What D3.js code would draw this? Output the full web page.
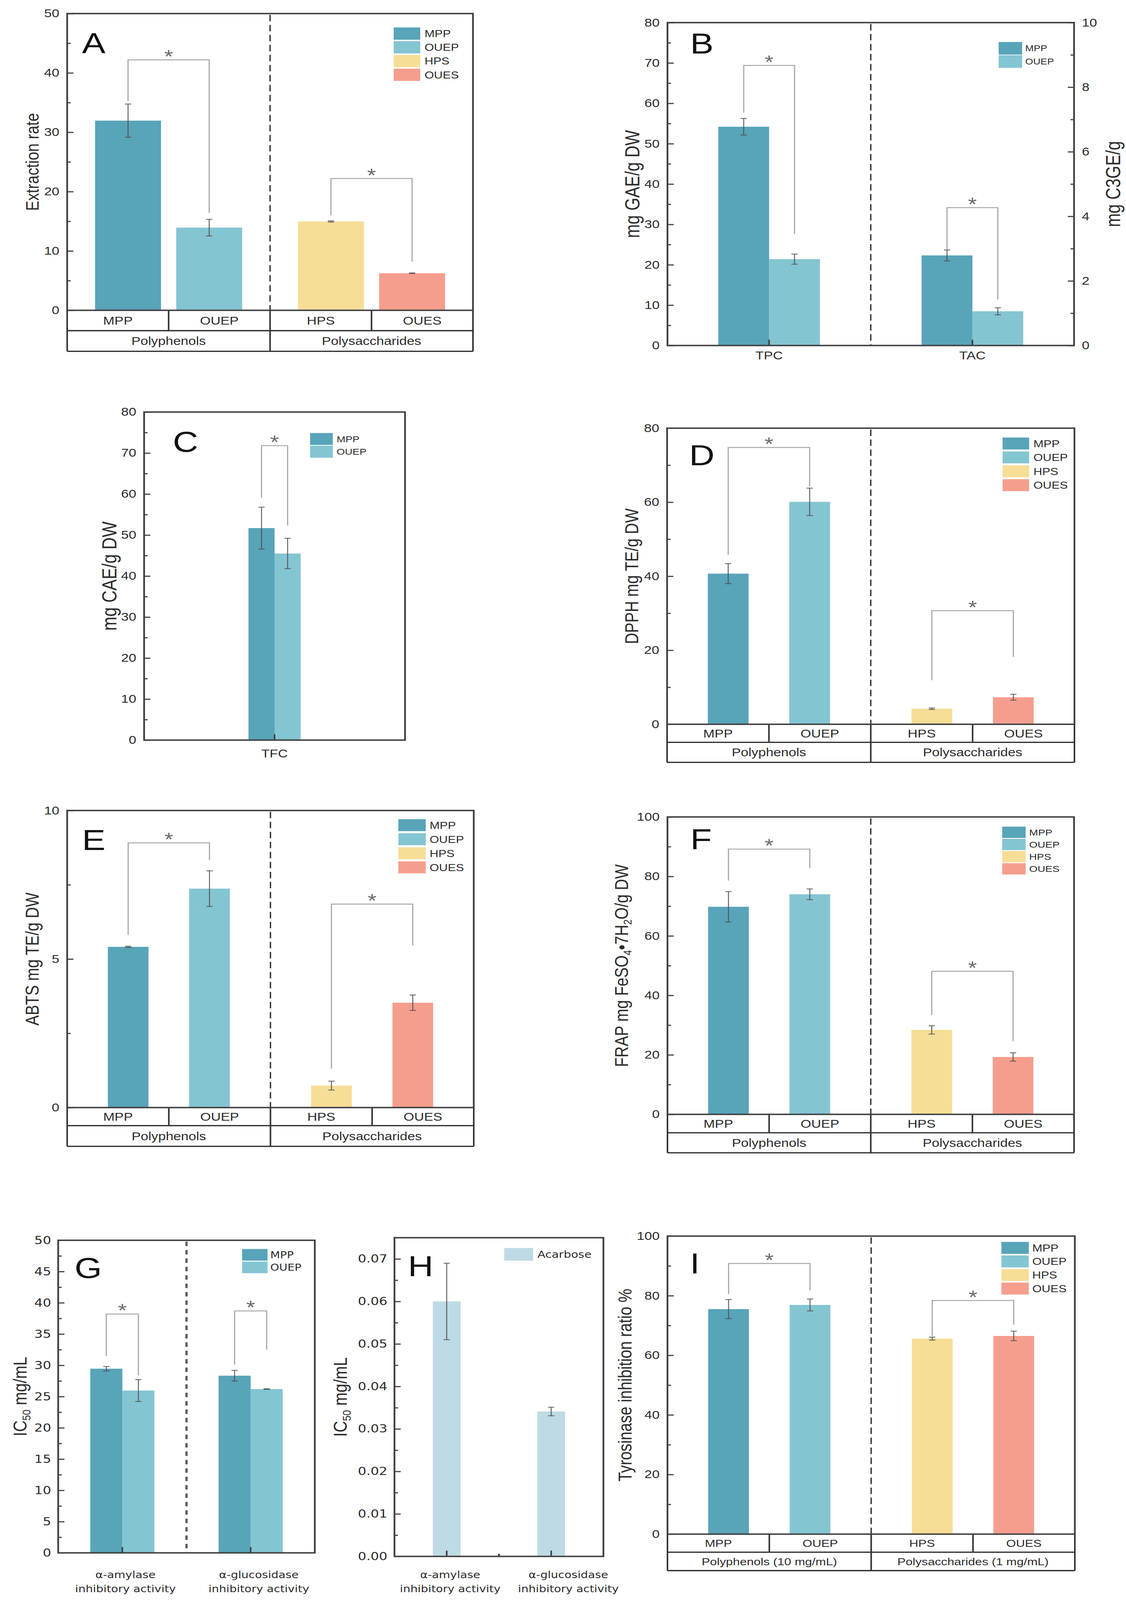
<!DOCTYPE html>
<html>
<head>
<meta charset="utf-8">
<script src="https://cdn.jsdelivr.net/npm/d3@7"></script>
<style>
  html, body { margin: 0; padding: 0; background: #fff; overflow: hidden; }
  #fig svg { display: block; width: 100vw; height: 100vh; }
</style>
</head>
<body>
<div id="fig"></div>
<script>
"use strict";
// ---- series / categories ----
const series4 = ["MPP", "OUEP", "HPS", "OUES"];
const series2 = ["MPP", "OUEP"];
const ppGroups = ["Polyphenols", "Polysaccharides"];
const ppGroupsConc = ["Polyphenols (10 mg/mL)", "Polysaccharides (1 mg/mL)"];
const bGroups = ["TPC", "TAC"];
const cGroups = ["TFC"];
const enzymes = ["α-amylase", "α-glucosidase"];
const enzymeLines = [["α-amylase", "inhibitory activity"], ["α-glucosidase", "inhibitory activity"]];

// ---- values (mean, error) ----
// A extraction rate
const aValues = [31.96, 13.93, 14.97, 6.25];
const aErrors = [2.8, 1.4, 0.1, 0.05];
const aSig = [[0, 1, 42.2, 35.2, 16.4], [2, 3, 22.2, 16.0, 8.2]];
// B TPC (left axis) and TAC (right axis)
const tpcValues = [54.2, 21.4];
const tpcErrors = [2.05, 1.25];
const tacValues = [2.79, 1.06];
const tacErrors = [0.17, 0.11];
const bSig = [[0, 1, 69.4, 57.7, 27.6], [2, 3, 4.27, 2.98, 1.43]];
// C TFC
const cValues = [51.7, 45.5];
const cErrors = [5.1, 3.7];
const cSig = [[0, 1, 71.8, 59.1, 52.3]];
// D DPPH
const dValues = [40.7, 60.1, 4.2, 7.3];
const dErrors = [2.7, 3.7, 0.2, 0.8];
const dSig = [[0, 1, 74.8, 45.8, 64.3], [2, 3, 30.7, 11.9, 18.2]];
// E ABTS
const eValues = [5.41, 7.37, 0.74, 3.53];
const eErrors = [0.02, 0.6, 0.15, 0.26];
const eSig = [[0, 1, 8.91, 5.81, 8.33], [2, 3, 6.85, 1.31, 5.46]];
// F FRAP
const fValues = [69.8, 74.0, 28.4, 19.3];
const fErrors = [5.1, 1.8, 1.4, 1.4];
const fSig = [[0, 1, 89.2, 78.6, 82.8], [2, 3, 48.1, 33.4, 24.6]];
// G IC50 of extracts
const gMPP = [29.46, 28.34];
const gMPPErr = [0.35, 0.85];
const gOUEP = [25.96, 26.2];
const gOUEPErr = [1.75, 0.05];
const gSig = [[0, 1, 38.2, 31.5, 28.4], [2, 3, 38.7, 30.1, 32.5]];
// H acarbose
const hValues = [0.060, 0.0341];
const hErrors = [0.009, 0.001];
// I tyrosinase
const iValues = [75.5, 76.9, 65.6, 66.5];
const iErrors = [3.2, 2.0, 0.5, 1.6];
const iSig = [[0, 1, 90.8, 80.6, 81.8], [2, 3, 78.4, 66.5, 70.3]];

// ---- tick values ----
const aTicks = [0, 10, 20, 30, 40, 50];
const bTicks = [0, 10, 20, 30, 40, 50, 60, 70, 80];
const bTicksRight = [0, 2, 4, 6, 8, 10];
const cTicks = [0, 10, 20, 30, 40, 50, 60, 70, 80];
const dTicks = [0, 20, 40, 60, 80];
const eTicks = [0, 5, 10];
const fTicks = [0, 20, 40, 60, 80, 100];
const gTicks = [0, 5, 10, 15, 20, 25, 30, 35, 40, 45, 50];
const hTicks = [0, 0.01, 0.02, 0.03, 0.04, 0.05, 0.06, 0.07];
const iTicks = [0, 20, 40, 60, 80, 100];

const seriesColor = {
  MPP: "#58a4b9", OUEP: "#84c5d2", HPS: "#f6de96", OUES: "#f69e8e", Acarbose: "#bedae4"
};
const sans = "'Liberation Sans', Arial, Helvetica, sans-serif";
const wide = "'DejaVu Sans', Verdana, sans-serif";
const ink = "#2b2b2b";
const frameColor = "#404040";
const W = 2883, H = 4955;

const fourBars = (groups, values, errors) => values.map((v, i) => ({
  group: groups[i >> 1], slot: i % 2, name: series4[i], value: v, err: errors[i]
}));
const sigRows = rows => rows.map(([a, b, top, l, r]) => ({ a, b, top, l, r }));

// the figure is laid out in reference pixels and stretched to the window
const svg = d3.select("#fig").append("svg")
  .attr("viewBox", `0 0 ${W} ${H}`)
  .attr("preserveAspectRatio", "none")
  .style("font-family", sans);
svg.append("rect").attr("width", W).attr("height", H).attr("fill", "#fff");

function yTitle(g, parts, x, cy, fs) {
  const t = g.append("text")
    .attr("transform", `translate(${x + fs * 0.33},${cy}) rotate(-90)`)
    .attr("text-anchor", "middle")
    .attr("font-size", fs).attr("fill", ink);
  let shifted = false;
  parts.forEach(([s, sub]) => {
    const span = t.append("tspan").text(s).attr("font-size", sub ? fs * 0.62 : fs);
    if (sub && !shifted) { span.attr("dy", fs * 0.2); shifted = true; }
    else if (!sub && shifted) { span.attr("dy", -fs * 0.2); shifted = false; }
  });
}

function drawPanel(p) {
  const g = svg.append("g");
  const y = d3.scaleLinear().domain([0, p.max]).range([p.bottom, p.top]);
  const y2 = p.max2 ? d3.scaleLinear().domain([0, p.max2]).range([p.bottom, p.top]) : null;
  const gx = d3.scaleBand().domain(p.groups).range([p.left, p.right]);
  const gw = gx.bandwidth();
  const inner = d3.scalePoint().domain(d3.range(p.slots)).range([0, gw]).padding(p.pad);
  const bw = gw * p.barFrac;
  const cx = d => gx(d.group) + inner(d.slot);
  const ys = d => (d.right ? y2 : y);
  const tickFont = p.tickFont || sans;

  // bars
  g.append("g").selectAll("rect").data(p.bars).join("rect")
    .attr("x", d => cx(d) - bw / 2)
    .attr("width", bw)
    .attr("y", d => ys(d)(d.value))
    .attr("height", d => p.bottom - ys(d)(d.value))
    .attr("fill", d => seriesColor[d.name]);

  // error bars
  const eb = g.append("g").attr("stroke", "#4d4d4d").attr("stroke-width", 2.6).attr("stroke-opacity", 0.85)
    .selectAll("g").data(p.bars).join("g");
  eb.append("line")
    .attr("x1", cx).attr("x2", cx)
    .attr("y1", d => ys(d)(d.value + d.err)).attr("y2", d => ys(d)(d.value - d.err));
  [1, -1].forEach(s => eb.append("line")
    .attr("x1", d => cx(d) - 8).attr("x2", d => cx(d) + 8)
    .attr("y1", d => ys(d)(d.value + s * d.err)).attr("y2", d => ys(d)(d.value + s * d.err)));

  // significance brackets
  const starFs = 58;
  const sg = g.append("g").selectAll("g").data(p.sig || []).join("g");
  sg.append("path")
    .attr("d", d => {
      const s = ys(p.bars[d.a]);
      const xa = cx(p.bars[d.a]), xb = cx(p.bars[d.b]);
      return `M${xa},${s(d.l)}V${s(d.top)}H${xb}V${s(d.r)}`;
    })
    .attr("fill", "none").attr("stroke", "#a8a8a8").attr("stroke-width", 3);
  sg.append("text").text("*")
    .attr("x", d => (cx(p.bars[d.a]) + cx(p.bars[d.b])) / 2)
    .attr("y", d => ys(p.bars[d.a])(d.top) - 24 + 0.57 * starFs)
    .attr("text-anchor", "middle").attr("font-size", starFs).attr("fill", "#6a6a6a");

  // group divider
  if (p.divider) {
    const dx = gx(p.groups[1]);
    g.append("line")
      .attr("x1", dx).attr("x2", dx).attr("y1", p.top + 4).attr("y2", p.bottom)
      .attr("stroke", p.divider.color).attr("stroke-width", p.divider.width)
      .attr("stroke-dasharray", p.divider.dash);
  }

  // y axis (inward ticks)
  const fmt = p.fmt || d3.format("d");
  const ax = g.append("g").attr("transform", `translate(${p.left},0)`)
    .call(d3.axisLeft(y).tickValues(p.ticks).tickSize(-16).tickPadding(p.tickPad || 20).tickFormat(fmt));
  const minor = d3.pairs(p.ticks).map(([a, b]) => (a + b) / 2);
  const axm = g.append("g").attr("transform", `translate(${p.left},0)`)
    .call(d3.axisLeft(y).tickValues(minor).tickSize(-9).tickFormat(""));
  [ax, axm].forEach(a => {
    a.select(".domain").remove();
    a.attr("color", frameColor).selectAll("line").attr("stroke-width", 3.5);
  });
  axm.selectAll("text").remove();
  ax.selectAll("text").attr("font-size", p.tickFs || 35).attr("font-family", tickFont).attr("fill", ink);

  if (y2) {
    const ar = g.append("g").attr("transform", `translate(${p.right},0)`)
      .call(d3.axisRight(y2).tickValues(p.ticks2).tickSize(-16).tickPadding(20).tickFormat(fmt));
    const minor2 = d3.pairs(p.ticks2).map(([a, b]) => (a + b) / 2);
    const arm = g.append("g").attr("transform", `translate(${p.right},0)`)
      .call(d3.axisRight(y2).tickValues(minor2).tickSize(-9).tickFormat(""));
    [ar, arm].forEach(a => {
      a.select(".domain").remove();
      a.attr("color", frameColor).selectAll("line").attr("stroke-width", 3.5);
    });
    arm.selectAll("text").remove();
    ar.selectAll("text").attr("font-size", 35).attr("font-family", sans).attr("fill", ink);
  }

  // category ticks + labels below the axis
  if (p.catLines) {
    const axb = g.append("g").attr("transform", `translate(0,${p.bottom})`)
      .call(d3.axisBottom(gx).tickSize(-18).tickFormat(""));
    axb.select(".domain").remove();
    axb.selectAll("text").remove();
    axb.attr("color", frameColor).selectAll("line").attr("stroke-width", 4);
    if (p.midTick) {
      g.append("line").attr("x1", gx(p.groups[1])).attr("x2", gx(p.groups[1]))
        .attr("y1", p.bottom).attr("y2", p.bottom - 8)
        .attr("stroke", frameColor).attr("stroke-width", 5);
    }
    p.groups.forEach((grp, j) => {
      p.catLines[j].forEach((line, k) => {
        g.append("text").text(line)
          .attr("x", gx(grp) + gw / 2 + (p.catShift ? p.catShift[j] : 0))
          .attr("y", p.bottom + p.catY[k]).attr("dy", "0.35em")
          .attr("text-anchor", "middle")
          .attr("font-size", p.catFs).attr("font-family", p.catFont || sans).attr("fill", ink);
      });
    });
  }

  // table rows under the axis
  if (p.rows) {
    const r1 = p.bottom + p.rows[0], r2 = r1 + p.rows[1];
    const tl = g.append("g").attr("stroke", "#333").attr("stroke-width", 4);
    [r1, r2].forEach(ry => tl.append("line").attr("x1", p.left).attr("x2", p.right).attr("y1", ry).attr("y2", ry));
    [p.left, gx(p.groups[1]), p.right].forEach(vx =>
      tl.append("line").attr("x1", vx).attr("x2", vx).attr("y1", p.bottom).attr("y2", r2));
    p.groups.forEach(grp =>
      tl.append("line").attr("x1", gx(grp) + gw / 2).attr("x2", gx(grp) + gw / 2).attr("y1", p.bottom).attr("y2", r1));
    g.append("g").selectAll("text").data(p.bars).join("text")
      .text(d => d.name)
      .attr("x", d => gx(d.group) + gw * (d.slot * 2 + 1) / 4)
      .attr("y", (p.bottom + r1) / 2).attr("dy", "0.36em")
      .attr("text-anchor", "middle").attr("font-size", p.rowFs[0]).attr("fill", ink);
    g.append("g").selectAll("text").data(p.groups).join("text")
      .text(d => d)
      .attr("x", d => gx(d) + gw / 2)
      .attr("y", (r1 + r2) / 2).attr("dy", "0.36em")
      .attr("text-anchor", "middle").attr("font-size", p.rowFs[1]).attr("fill", ink);
  }

  // frame
  g.append("rect")
    .attr("x", p.left).attr("y", p.top)
    .attr("width", p.right - p.left).attr("height", p.bottom - p.top)
    .attr("fill", "none").attr("stroke", frameColor).attr("stroke-width", 4.5);

  // legend
  const L = p.legend;
  const lg = g.append("g").selectAll("g").data(L.items).join("g")
    .attr("transform", (d, i) => `translate(${L.x},${L.y + i * L.step})`);
  lg.append("rect").attr("width", L.w).attr("height", L.h).attr("fill", d => seriesColor[d]);
  lg.append("text").text(d => d)
    .attr("x", L.w + L.gap).attr("y", L.h / 2).attr("dy", "0.36em")
    .attr("font-size", L.fs).attr("font-family", L.font || sans).attr("fill", ink);

  // panel letter
  g.append("text").text(p.letter[0])
    .attr("x", p.letter[1]).attr("y", p.letter[2] + 32)
    .attr("text-anchor", "middle").attr("font-size", 90).attr("fill", "#111");

  // axis titles
  yTitle(g, p.title[0], p.title[1], (p.top + p.bottom) / 2, p.title[2]);
  if (p.title2) yTitle(g, p.title2[0], p.title2[1], (p.top + p.bottom) / 2, p.title2[2]);
}

const thinDash = { color: "#333", width: 3.5, dash: "20,11" };

// A
drawPanel({
  left: 172, right: 1211, top: 42, bottom: 961, max: 50, ticks: aTicks,
  groups: ppGroups, slots: 2, pad: 0.75, barFrac: 0.325,
  bars: fourBars(ppGroups, aValues, aErrors), sig: sigRows(aSig),
  divider: thinDash, rows: [63, 64], rowFs: [35, 35],
  legend: { items: series4, x: 1008, y: 85, w: 68, h: 38, step: 42.5, gap: 11, fs: 31 },
  letter: ["A", 240, 133], title: [[["Extraction rate"]], 83, 47]
});
// B
drawPanel({
  left: 1709, right: 2750, top: 70, bottom: 1070, max: 80, ticks: bTicks, max2: 10, ticks2: bTicksRight,
  groups: bGroups, slots: 2, pad: 1.5, barFrac: 0.25,
  bars: series2.map((s, i) => ({ group: "TPC", slot: i, name: s, value: tpcValues[i], err: tpcErrors[i] }))
    .concat(series2.map((s, i) => ({ group: "TAC", slot: i, name: s, value: tacValues[i], err: tacErrors[i], right: true }))),
  sig: sigRows(bSig), divider: thinDash,
  catLines: bGroups.map(d => [d]), catY: [31], catFs: 35,
  legend: { items: series2, x: 2557, y: 130, w: 60, h: 39, step: 41, gap: 8, fs: 26 },
  letter: ["B", 1797, 134],
  title: [[["mg GAE/g DW"]], 1620, 51], title2: [[["mg C3GE/g"]], 2851, 51]
});
// C
drawPanel({
  left: 369, right: 1037, top: 1276, bottom: 2292, max: 80, ticks: cTicks,
  groups: cGroups, slots: 2, pad: 4.5, barFrac: 0.1,
  bars: series2.map((s, i) => ({ group: "TFC", slot: i, name: s, value: cValues[i], err: cErrors[i] })),
  sig: sigRows(cSig),
  catLines: [["TFC"]], catY: [41], catFs: 35,
  legend: { items: series2, x: 794, y: 1341, w: 58, h: 37, step: 39.5, gap: 10, fs: 27 },
  letter: ["C", 475, 1368], title: [[["mg CAE/g DW"]], 281, 52]
});
// D
drawPanel({
  left: 1708, right: 2751, top: 1326, bottom: 2243, max: 80, ticks: dTicks,
  groups: ppGroups, slots: 2, pad: 0.75, barFrac: 0.2,
  bars: fourBars(ppGroups, dValues, dErrors), sig: sigRows(dSig),
  divider: thinDash, rows: [56, 62], rowFs: [35, 35],
  legend: { items: series4, x: 2567, y: 1355, w: 68, h: 37, step: 43, gap: 11, fs: 31 },
  letter: ["D", 1797, 1409], title: [[["DPPH mg TE/g DW"]], 1618, 48]
});
// E
drawPanel({
  left: 172, right: 1213, top: 2510, bottom: 3430, max: 10, ticks: eTicks,
  groups: ppGroups, slots: 2, pad: 0.75, barFrac: 0.2,
  bars: fourBars(ppGroups, eValues, eErrors), sig: sigRows(eSig),
  divider: thinDash, rows: [56, 64], rowFs: [35, 35],
  legend: { items: series4, x: 1020, y: 2537, w: 70, h: 37, step: 43.5, gap: 10, fs: 31 },
  letter: ["E", 240, 2600], title: [[["ABTS mg TE/g DW"]], 83, 48]
});
// F
drawPanel({
  left: 1709, right: 2750, top: 2530, bottom: 3451, max: 100, ticks: fTicks,
  groups: ppGroups, slots: 2, pad: 0.75, barFrac: 0.2,
  bars: fourBars(ppGroups, fValues, fErrors), sig: sigRows(fSig),
  divider: thinDash, rows: [57, 62], rowFs: [35, 35],
  legend: { items: series4, x: 2566, y: 2560, w: 60, h: 35, step: 37.7, gap: 9, fs: 27.5 },
  letter: ["F", 1795, 2598],
  title: [[["FRAP mg FeSO"], ["4", true], ["\u20227H"], ["2", true], ["O/g DW"]], 1592, 48]
});
// G
drawPanel({
  left: 149, right: 806, top: 3841, bottom: 4809, max: 50, ticks: gTicks,
  tickFont: wide, tickFs: 34, tickPad: 18,
  groups: enzymes, slots: 2, pad: 1.5, barFrac: 0.25,
  bars: enzymes.flatMap((grp, j) => [
    { group: grp, slot: 0, name: "MPP", value: gMPP[j], err: gMPPErr[j] },
    { group: grp, slot: 1, name: "OUEP", value: gOUEP[j], err: gOUEPErr[j] }]),
  sig: sigRows(gSig),
  divider: { color: "#5e5e5e", width: 6, dash: "14,12" },
  catLines: enzymeLines, catY: [68, 111], catFs: 29.5, catFont: wide, catShift: [8, 21],
  legend: { items: series2, x: 620, y: 3868, w: 65, h: 36, step: 39, gap: 7, fs: 29, font: wide },
  letter: ["G", 226, 3926], title: [[["IC"], ["50", true], [" mg/mL"]], 52, 49]
});
// H
drawPanel({
  left: 1010, right: 1545, top: 3833, bottom: 4820, max: 0.075, ticks: hTicks, fmt: d3.format(".2f"),
  tickFont: wide, tickFs: 34, tickPad: 18,
  groups: enzymes, slots: 1, pad: 0.5, barFrac: 0.265,
  bars: enzymes.map((grp, j) => ({ group: grp, slot: 0, name: "Acarbose", value: hValues[j], err: hErrors[j] })),
  catLines: enzymeLines, catY: [57, 100], catFs: 29.5, catFont: wide, catShift: [9, 44], midTick: true,
  legend: { items: ["Acarbose"], x: 1291, y: 3865, w: 74, h: 39, step: 40, gap: 11, fs: 30, font: wide },
  letter: ["H", 1077, 3920], title: [[["IC"], ["50", true], [" mg/mL"]], 872, 49]
});
// I
drawPanel({
  left: 1709, right: 2752, top: 3828, bottom: 4751, max: 100, ticks: iTicks,
  groups: ppGroupsConc, slots: 2, pad: 0.75, barFrac: 0.2,
  bars: fourBars(ppGroupsConc, iValues, iErrors), sig: sigRows(iSig),
  divider: thinDash, rows: [56, 57], rowFs: [32, 32],
  legend: { items: series4, x: 2564, y: 3846, w: 70, h: 37, step: 42, gap: 9, fs: 31 },
  letter: ["I", 1779, 3912], title: [[["Tyrosinase inhibition ratio %"]], 1601, 48]
});
</script>
</body>
</html>
